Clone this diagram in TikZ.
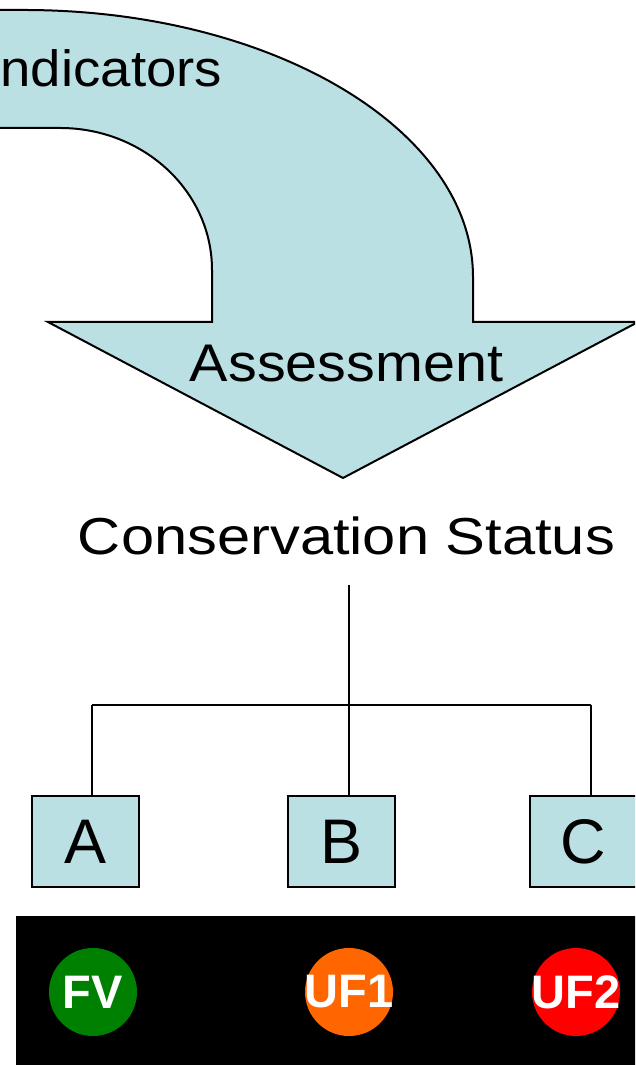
\documentclass[tikz,border=0pt]{standalone}
\usepackage{fontspec}
\setmainfont{Liberation Sans}
\definecolor{lb}{RGB}{187,224,227}
\definecolor{fvgreen}{RGB}{0,128,0}
\definecolor{uforange}{RGB}{255,102,0}
\definecolor{ufred}{RGB}{255,0,0}
\begin{document}
\begin{tikzpicture}[x=1pt,y=1pt,line width=2pt,
  bigtext/.style={inner sep=0pt,anchor=base,font=\fontsize{52}{60}\selectfont},
  boxnode/.style={draw,fill=lb,line width=2.5pt,minimum width=107,minimum height=91,inner sep=0pt,font=\fontsize{63}{70}\selectfont},
  dotnode/.style={circle,minimum size=88,inner sep=0pt},
  dottext/.style={inner sep=0pt,text=white,font=\fontsize{47}{52}\selectfont\bfseries},
  conn/.style={line width=2pt}]
\useasboundingbox (0,0) rectangle (635,1065);
\clip (0,0) rectangle (635,1065);
\fill[white] (0,0) rectangle (635,1065);
% curved arrow
\draw[fill=lb,line join=miter] (-50,1055) -- (24,1055)
  arc[start angle=90,end angle=0,x radius=449,y radius=267]
  -- (473,743) -- (638,743) -- (343,587) -- (48,743) -- (212,743) -- (212,795)
  arc[start angle=0,end angle=90,x radius=152,y radius=142]
  -- (-50,937) -- cycle;
\node[bigtext,anchor=base east,font=\fontsize{51}{60}\selectfont] (ind) at (223,978) {\scalebox{1.07}[1]{Indicators}};
\node[bigtext,font=\fontsize{53}{60}\selectfont] (ass) at (346.5,683) {\scalebox{1.085}[1]{Assessment}};
\node[bigtext] (cs) at (346.5,510) {\scalebox{1.147}[1]{Conservation Status}};
% boxes
\node[boxnode] (A) at (85.5,223.5) {A};
\node[boxnode] (B) at (341.5,223.5) {B};
\node[boxnode] (C) at (583.5,223.5) {C};
% tree
\coordinate (top) at (349,480);
\coordinate (mid) at (349,360);
\coordinate (ja) at (92,360);
\coordinate (jc) at (591,360);
\draw[conn] (top) -- (mid);
\draw[conn] (ja) -- (jc);
\draw[conn] (ja) -- (ja |- A.north);
\draw[conn] (mid) -- (mid |- B.north);
\draw[conn] (jc) -- (jc |- C.north);
% black band
\fill[black] (16,0) rectangle (640,149);
\node[dotnode,fill=fvgreen] (fv) at (93,73) {};
\node[dotnode,fill=uforange] (uf1) at (349,73) {};
\node[dotnode,fill=ufred] (uf2) at (576,73) {};
\node[dottext] at (fv) {FV};
\node[dottext] at (uf1) {UF1};
\node[dottext] at (uf2) {UF2};
\end{tikzpicture}
\end{document}
